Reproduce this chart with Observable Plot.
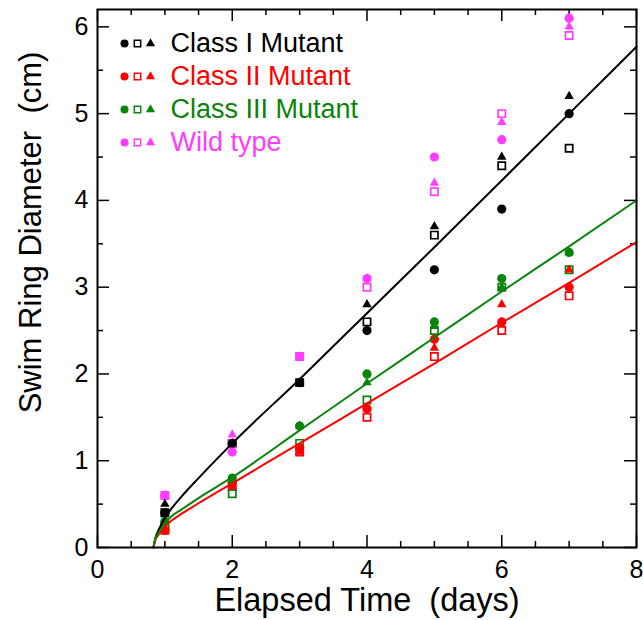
<!DOCTYPE html>
<html>
<head>
<meta charset="utf-8">
<script src="https://cdn.jsdelivr.net/npm/d3@7"></script>
<script src="https://cdn.jsdelivr.net/npm/@observablehq/plot@0.6"></script>
<style>
  html, body { margin: 0; padding: 0; background: #fff; }
  #chart svg text { white-space: pre; }
</style>
</head>
<body>
<div id="chart"></div>
<script>
// ---- data ----
const days = [1, 2, 3, 4, 5, 6, 7];

const classICircle   = [0.4, 1.2, 1.9, 2.5, 3.2, 3.9, 5.0];
const classISquare   = [0.4, 1.2, 1.9, 2.6, 3.6, 4.4, 4.6];
const classITriangle = [0.5, 1.2, 1.9, 2.8, 3.7, 4.5, 5.2];

const classIICircle   = [0.2, 0.75, 1.15, 1.6, 2.4, 2.6, 3.0];
const classIISquare   = [0.2, 0.7, 1.1, 1.5, 2.2, 2.5, 2.9];
const classIITriangle = [0.2, 0.7, 1.1, 1.6, 2.3, 2.8, 3.2];

const classIIICircle   = [0.3, 0.8, 1.4, 2.0, 2.6, 3.1, 3.4];
const classIIISquare   = [0.25, 0.62, 1.2, 1.7, 2.5, 3.0, 3.2];
const classIIITriangle = [0.3, 0.77, 1.4, 1.9, 2.55, 3.0, 3.4];

const wildCircle   = [0.6, 1.1, 2.2, 3.1, 4.5, 4.7, 6.1];
const wildSquare   = [0.6, 1.2, 2.2, 3.0, 4.1, 5.0, 5.9];
const wildTriangle = [0.6, 1.3, 2.2, 3.1, 4.2, 4.9, 6.0];

// fitted curves
const fitTime      = [0.83, 0.86, 0.9, 0.95, 1.0, 1.1, 1.25, 1.5, 2, 3, 4, 5, 6, 7, 8];
const fitClassI    = [0, 0.11, 0.19, 0.27, 0.34, 0.45, 0.59, 0.8, 1.2, 1.94, 2.7, 3.46, 4.23, 5.0, 5.77];
const fitClassII   = [0, 0.09, 0.14, 0.19, 0.24, 0.31, 0.39, 0.51, 0.74, 1.2, 1.66, 2.12, 2.59, 3.05, 3.52];
const fitClassIII  = [0, 0.1, 0.16, 0.22, 0.28, 0.36, 0.44, 0.57, 0.81, 1.35, 1.89, 2.42, 2.95, 3.47, 4.0];

const seriesNames = ["Class I Mutant", "Class II Mutant", "Class III Mutant", "Wild type"];
const seriesColors = ["#000000", "#ff0000", "#0a840a", "#ff3cff"];

const xTickLabels = [0, 2, 4, 6, 8];
const xMinorTicks = [0.5, 1, 1.5, 2.5, 3, 3.5, 4.5, 5, 5.5, 6.5, 7, 7.5];
const yTickLabels = [0, 1, 2, 3, 4, 5, 6];
const yMinorTicks = [0.5, 1.5, 2.5, 3.5, 4.5, 5.5];

const xTitle = "Elapsed Time  (days)";
const yTitle = "Swim Ring Diameter  (cm)";

// ---- layout ----
const W = 643, H = 620;
const mL = 97, mR = 7, mT = 9, mB = 73;
const plotW = W - mL - mR, plotH = H - mT - mB;
const major = 12, minor = 6;

const circles = [classICircle, classIICircle, classIIICircle, wildCircle];
const squares = [classISquare, classIISquare, classIIISquare, wildSquare];
const triangles = [classITriangle, classIITriangle, classIIITriangle, wildTriangle];
const fits = [fitClassI, fitClassII, fitClassIII];

const marks = [];

// ticks (inward, on all four sides)
marks.push(
  Plot.ruleX(xTickLabels, {x: d => d, insetTop: plotH - major, strokeWidth: 1.5}),
  Plot.ruleX(xTickLabels, {x: d => d, insetBottom: plotH - major, strokeWidth: 1.5}),
  Plot.ruleX(xMinorTicks, {x: d => d, insetTop: plotH - minor, strokeWidth: 1.5}),
  Plot.ruleX(xMinorTicks, {x: d => d, insetBottom: plotH - minor, strokeWidth: 1.5}),
  Plot.ruleY(yTickLabels, {y: d => d, insetRight: plotW - major, strokeWidth: 1.5}),
  Plot.ruleY(yTickLabels, {y: d => d, insetLeft: plotW - major, strokeWidth: 1.5}),
  Plot.ruleY(yMinorTicks, {y: d => d, insetRight: plotW - minor, strokeWidth: 1.5}),
  Plot.ruleY(yMinorTicks, {y: d => d, insetLeft: plotW - minor, strokeWidth: 1.5})
);

// data points: squares, then circles, then triangles
squares.forEach((arr, k) => marks.push(
  Plot.dot(days, {x: d => d, y: (d, i) => arr[i], symbol: "square", r: 4.1,
    fill: "white", stroke: seriesColors[k], strokeWidth: 1.7})
));
circles.forEach((arr, k) => marks.push(
  Plot.dot(days, {x: d => d, y: (d, i) => arr[i], symbol: "circle", r: 4.6,
    fill: seriesColors[k], stroke: "none"})
));
triangles.forEach((arr, k) => marks.push(
  Plot.dot(days, {x: d => d, y: (d, i) => arr[i], symbol: "triangle", r: 3.5,
    fill: seriesColors[k], stroke: "none"})
));

// fit curves
fits.forEach((arr, k) => marks.push(
  Plot.line(fitTime, {x: d => d, y: (d, i) => arr[i], stroke: seriesColors[k],
    strokeWidth: 2, curve: "monotone-x"})
));

// frame
marks.push(Plot.frame({stroke: "black", strokeWidth: 2}));

// axes tick labels
marks.push(
  Plot.axisX(xTickLabels, {tickSize: 0, tickPadding: 13, fontSize: 25, label: null, tickFormat: d => String(d)}),
  Plot.axisY(yTickLabels, {tickSize: 0, tickPadding: 9, fontSize: 25, label: null, tickFormat: d => String(d)})
);

// axis titles
marks.push(
  Plot.text([xTitle], {text: d => d, frameAnchor: "bottom", dy: 53, fontSize: 32.5,
    textAnchor: "middle", lineAnchor: "middle"}),
  Plot.text([yTitle], {text: d => d, frameAnchor: "left", rotate: -90, dx: -66, dy: -46, fontSize: 31,
    textAnchor: "middle", lineAnchor: "middle"})
);

// legend (inside the frame, top-left)
const legRow0 = 34, legStep = 33;
seriesNames.forEach((name, k) => {
  const dy = legRow0 + k * legStep;
  marks.push(
    Plot.dot([0], {frameAnchor: "top-left", dx: 27, dy, symbol: "circle", r: 4,
      fill: seriesColors[k], stroke: "none"}),
    Plot.dot([0], {frameAnchor: "top-left", dx: 40, dy, symbol: "square", r: 3.6,
      fill: "white", stroke: seriesColors[k], strokeWidth: 1.5}),
    Plot.dot([0], {frameAnchor: "top-left", dx: 53, dy, symbol: "triangle", r: 3.4,
      fill: seriesColors[k], stroke: "none"}),
    Plot.text([name], {text: d => d, frameAnchor: "top-left", dx: 73, dy,
      textAnchor: "start", lineAnchor: "middle", fontSize: 27, fill: seriesColors[k]})
  );
});

const chart = Plot.plot({
  width: W,
  height: H,
  marginLeft: mL,
  marginRight: mR,
  marginTop: mT,
  marginBottom: mB,
  x: {domain: [0, 8]},
  y: {domain: [0, 6.2]},
  style: {
    fontFamily: "'Liberation Sans', Arial, Helvetica, sans-serif",
    fontSize: "25px",
    background: "white",
    color: "black",
    overflow: "visible"
  },
  marks
});

document.getElementById("chart").appendChild(chart);
</script>
</body>
</html>
